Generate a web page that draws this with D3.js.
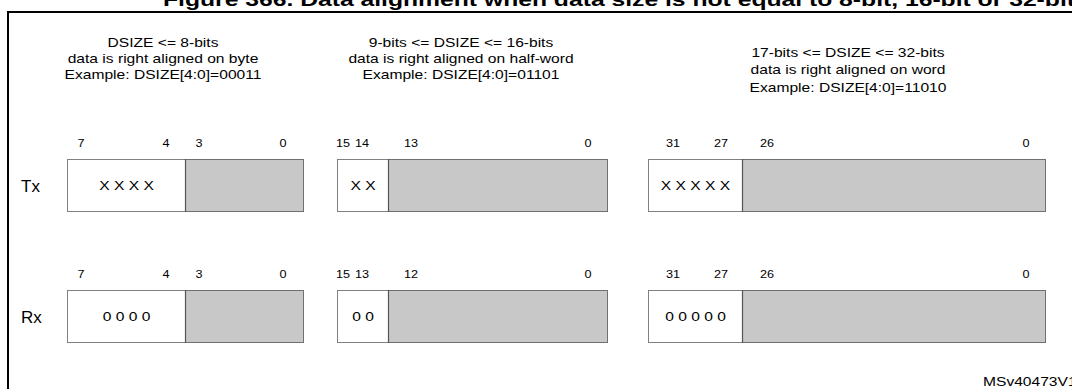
<!DOCTYPE html>
<html><head><meta charset="utf-8">
<script src="https://cdn.jsdelivr.net/npm/d3@7"></script>
<style>html,body{margin:0;padding:0;background:#fff;overflow:hidden}svg{display:block}text{font-family:"Liberation Sans",Arial,sans-serif;fill:#000}</style>
</head><body><svg id="c" width="1072" height="389"></svg>
<script>
// ---- data ----
const title = "Figure 366. Data alignment when data size is not equal to 8-bit, 16-bit or 32-bit";
const groups = ["byte", "half-word", "word"];
const headerLines = [
  ["DSIZE <= 8-bits", "data is right aligned on byte", "Example: DSIZE[4:0]=00011"],
  ["9-bits <= DSIZE <= 16-bits", "data is right aligned on half-word", "Example: DSIZE[4:0]=01101"],
  ["17-bits <= DSIZE <= 32-bits", "data is right aligned on word", "Example: DSIZE[4:0]=11010"]
];
const rows = ["Tx", "Rx"];
const txBits = [["7", "4", "3", "0"], ["15", "14", "13", "0"], ["31", "27", "26", "0"]];
const rxBits = [["7", "4", "3", "0"], ["15", "13", "12", "0"], ["31", "27", "26", "0"]];
const txData = ["X X X X", "X X", "X X X X X"];
const rxData = ["0 0 0 0", "0 0", "0 0 0 0 0"];
const footer = "MSv40473V1";

// ---- layout ----
const svg = d3.select("#c");
const W = 1072, H = 389;
const SX = 1.2; // horizontal stretch of the reference typography
const x = d3.scaleLinear().domain([0, 1]).range([0, 1]);
const layout = [
  {l: 67, d: 185, r: 303, off: [14, -19, 14, -20], hx: 163, hy: 46.5},
  {l: 337, d: 388, r: 607, off: [6, -26, 23, -19], hx: 461, hy: 46.5},
  {l: 648, d: 742, r: 1045, off: [25, -21, 25, -19], hx: 848, hy: 56.5}
];
const y = d3.scaleBand().domain(rows).range([159, 342]).paddingInner(0.603).paddingOuter(0);
const bh = y.bandwidth();

function stretchedText(px, py, size, anchor, str, sx) {
  return svg.append("text").attr("transform", `translate(${px},${py}) scale(${sx == null ? SX : sx},1)`)
    .attr("text-anchor", anchor).attr("font-size", size).text(str);
}

// title
svg.append("text").attr("x", 163).attr("y", 6).attr("font-size", 19).attr("font-weight", "bold")
  .attr("textLength", 912).attr("lengthAdjust", "spacingAndGlyphs").text(title);

// frame
svg.append("line").attr("x1", 7).attr("x2", W + 5).attr("y1", 12).attr("y2", 12).attr("stroke", "#000").attr("stroke-width", 2);
svg.append("line").attr("x1", 8).attr("x2", 8).attr("y1", 11).attr("y2", H + 5).attr("stroke", "#000").attr("stroke-width", 2);

// headers
groups.forEach((g, i) => {
  const L = layout[i];
  headerLines[i].forEach((t, k) => {
    stretchedText(L.hx, L.hy + k * (i === 2 ? 17.5 : 16), 13, "middle", t);
  });
});

// rows
const bitsByRow = {Tx: txBits, Rx: rxBits};
const dataByRow = {Tx: txData, Rx: rxData};
rows.forEach(row => {
  const top = y(row);
  stretchedText(21, top + 33, 17, "start", row, 1);
  groups.forEach((g, i) => {
    const L = layout[i];
    svg.append("rect").attr("x", x(L.d) + 0.5).attr("y", top + 0.5).attr("width", x(L.r) - x(L.d)).attr("height", bh)
      .attr("fill", "#c8c8c8").attr("stroke", "#707070").attr("stroke-width", 1);
    svg.append("rect").attr("x", x(L.l) + 0.5).attr("y", top + 0.5).attr("width", x(L.d) - x(L.l)).attr("height", bh)
      .attr("fill", "#fff").attr("stroke", "#808080").attr("stroke-width", 1);
    svg.append("line").attr("x1", x(L.d) + 0.5).attr("x2", x(L.d) + 0.5).attr("y1", top).attr("y2", top + bh + 1)
      .attr("stroke", "#555").attr("stroke-width", 1.2);
    stretchedText((x(L.l) + x(L.d)) / 2 + 0.5, top + 31, 13, "middle", dataByRow[row][i]);
    const anchors = [x(L.l), x(L.d), x(L.d), x(L.r)];
    bitsByRow[row][i].forEach((b, k) => {
      stretchedText(anchors[k] + L.off[k], top - 12, 11.5, "middle", b, 1.1);
    });
  });
});

// footer
stretchedText(983, 386, 13, "start", footer);
</script></body></html>
